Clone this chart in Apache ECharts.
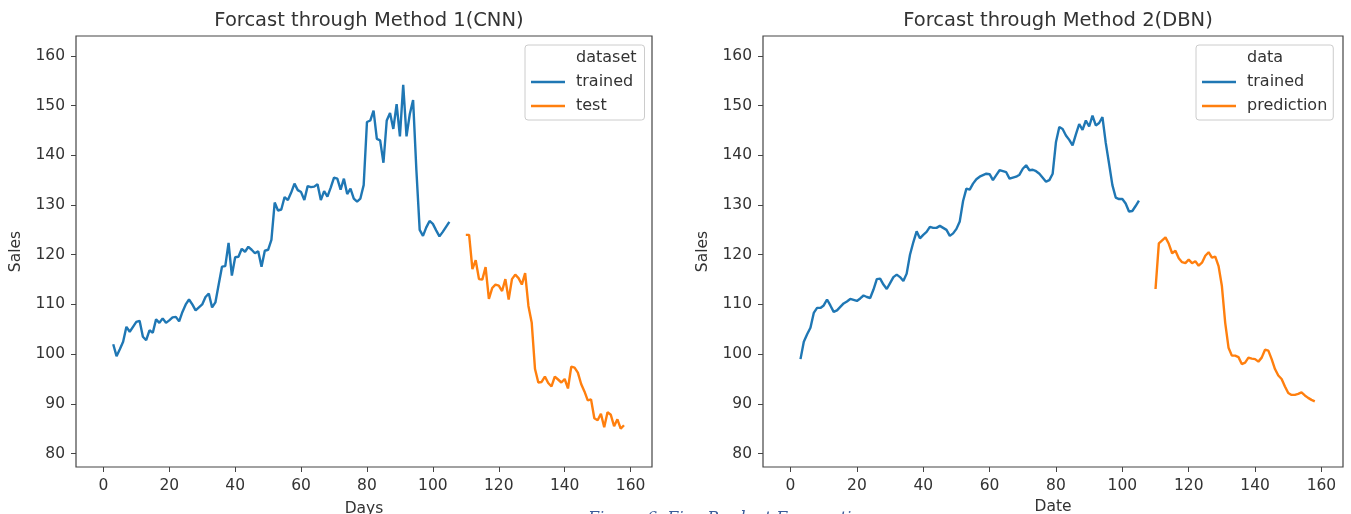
<!DOCTYPE html>
<html>
<head>
<meta charset="utf-8">
<script src="https://cdn.jsdelivr.net/npm/echarts@6/dist/echarts.min.js"></script>
<style>html,body{margin:0;padding:0;background:#fff;}#c{width:1351px;height:514px;}</style>
</head>
<body>
<div id="c"></div>
<script>
// ---- data ----
const titles = ['Forcast through Method 1(CNN)', 'Forcast through Method 2(DBN)'];
const xNames = ['Days', 'Date'];
const yName = 'Sales';
const legendTitles = ['dataset', 'data'];
const seriesNames = [['trained', 'test'], ['trained', 'prediction']];
const caption = 'Figure 6. Five Product Forecasting';
const xTicks = [0, 20, 40, 60, 80, 100, 120, 140, 160];
const yTicks = [80, 90, 100, 110, 120, 130, 140, 150, 160];
const trainStart = 3;
const testStart = 110;

const cnnTrained = [102.0, 99.6, 101.0, 102.5, 105.5, 104.5, 105.5, 106.5, 106.7, 103.5,
  102.8, 104.8, 104.3, 107.0, 106.3, 107.2, 106.3, 106.8, 107.4, 107.5,
  106.6, 108.5, 110.0, 111.0, 110.0, 108.8, 109.4, 110.0, 111.5, 112.2,
  109.4, 110.4, 114.0, 117.6, 117.7, 122.4, 115.8, 119.5, 119.6, 121.2,
  120.6, 121.6, 121.0, 120.3, 120.7, 117.6, 120.8, 121.0, 123.0, 130.5,
  128.9, 129.1, 131.6, 131.0, 132.5, 134.3, 133.0, 132.6, 131.0, 133.8,
  133.6, 133.7, 134.2, 131.0, 132.8, 131.7, 133.5, 135.5, 135.3, 133.1,
  135.3, 132.2, 133.3, 131.3, 130.7, 131.3, 134.0, 146.7, 147.0, 149.0,
  143.3, 143.0, 138.5, 147.0, 148.5, 145.3, 150.3, 143.8, 154.2, 143.8,
  148.3, 151.1, 137.0, 125.0, 123.8, 125.5, 126.8, 126.2, 124.9, 123.7,
  124.6, 125.6, 126.6];
const cnnTest = [124.0, 124.0, 117.1, 118.9, 115.1, 115.0, 117.5, 111.1, 113.3, 114.0,
  113.8, 112.7, 115.1, 111.0, 115.1, 116.0, 115.3, 114.0, 116.3, 109.7,
  106.3, 97.0, 94.3, 94.4, 95.5, 94.2, 93.5, 95.5, 94.9, 94.3,
  95.0, 93.1, 97.5, 97.3, 96.3, 94.0, 92.5, 90.7, 90.9, 87.1,
  86.7, 88.0, 85.3, 88.3, 87.8, 85.5, 86.9, 85.0, 85.7];
const dbnTrained = [99.0, 102.5, 104.0, 105.3, 108.3, 109.3, 109.3, 109.8, 111.0, 109.8,
  108.5, 108.8, 109.5, 110.2, 110.6, 111.1, 110.9, 110.7, 111.2, 111.8,
  111.5, 111.3, 113.0, 115.1, 115.2, 114.0, 113.1, 114.3, 115.5, 116.0,
  115.5, 114.7, 116.2, 120.0, 122.5, 124.7, 123.3, 124.0, 124.6, 125.6,
  125.4, 125.4, 125.8, 125.4, 125.0, 123.8, 124.3, 125.2, 126.7, 130.8,
  133.3, 133.1, 134.3, 135.2, 135.7, 136.0, 136.3, 136.2, 135.0, 136.0,
  137.0, 136.8, 136.6, 135.3, 135.5, 135.7, 136.1, 137.3, 138.0, 137.0,
  137.1, 136.8, 136.3, 135.5, 134.7, 135.0, 136.3, 142.7, 145.7, 145.3,
  144.0, 143.1, 142.0, 144.2, 146.3, 145.1, 147.0, 145.8, 148.0, 146.0,
  146.5, 147.7, 142.5, 138.3, 134.0, 131.5, 131.2, 131.2, 130.3, 128.7,
  128.8, 129.8, 130.9];
const dbnPrediction = [113.1, 122.3, 122.9, 123.5, 122.2, 120.3, 120.8, 119.3, 118.5, 118.3,
  119.0, 118.3, 118.7, 117.8, 118.4, 119.8, 120.5, 119.4, 119.6, 117.7,
  113.7, 106.3, 101.3, 99.7, 99.7, 99.4, 98.0, 98.3, 99.3, 99.1,
  99.0, 98.5, 99.3, 100.9, 100.7, 99.0, 97.0, 95.7, 95.0, 93.5,
  92.2, 91.8, 91.8, 92.0, 92.3, 91.7, 91.2, 90.8, 90.5];

// ---- build ----
const BLUE = '#1f77b4', ORANGE = '#ff7f0e', TXT = '#333';
const FONT = 'DejaVu Sans';
function pairs(start, vals) { return vals.map((v, i) => [start + i, v]); }

const grids = [
  {left: 76, right: 1351 - 652, top: 36, bottom: 514 - 467},
  {left: 763, right: 1351 - 1343, top: 36, bottom: 514 - 467}
];
grids.forEach(g => {
  g.show = true; g.borderColor = '#444'; g.borderWidth = 1.2; g.backgroundColor = 'transparent';
  g.containLabel = false; g.outerBoundsMode = 'none';
});

const xNameGaps = [34, 31];
const xAxes = [0, 1].map(i => ({
  type: 'value', gridIndex: i, min: -8.3, max: 166.5,
  name: xNames[i], nameLocation: 'middle', nameGap: xNameGaps[i],
  nameTextStyle: {fontFamily: FONT, fontSize: 15.5, color: TXT},
  axisLine: {show: false, onZero: false},
  axisTick: {show: true, length: 5, customValues: xTicks, lineStyle: {color: '#444'}},
  axisLabel: {customValues: xTicks, fontFamily: FONT, fontSize: 15.5, color: TXT, margin: 11},
  splitLine: {show: false}
}));
const yAxes = [0, 1].map(i => ({
  type: 'value', gridIndex: i, min: 77.3, max: 164,
  name: yName, nameLocation: 'middle', nameGap: 52, nameRotate: 90,
  nameTextStyle: {fontFamily: FONT, fontSize: 15.5, color: TXT},
  axisLine: {show: false, onZero: false},
  axisTick: {show: true, length: 5, customValues: yTicks, lineStyle: {color: '#444'}},
  axisLabel: {customValues: yTicks, fontFamily: FONT, fontSize: 15.5, color: TXT, margin: 11},
  splitLine: {show: false}
}));

const lineSeries = (name, idx, data, color) => ({
  name: name, type: 'line', xAxisIndex: idx, yAxisIndex: idx,
  data: data, showSymbol: false, symbol: 'none',
  lineStyle: {color: color, width: 2.4}, itemStyle: {color: color},
  animation: false
});
const dummy = (name, idx) => ({
  name: name, type: 'line', xAxisIndex: idx, yAxisIndex: idx, data: [],
  lineStyle: {color: 'rgba(0,0,0,0)'}, itemStyle: {color: 'rgba(0,0,0,0)'}
});

const series = [
  dummy(legendTitles[0], 0),
  lineSeries(seriesNames[0][0], 0, pairs(trainStart, cnnTrained), BLUE),
  lineSeries(seriesNames[0][1], 0, pairs(testStart, cnnTest), ORANGE),
  dummy(legendTitles[1], 1),
  lineSeries(seriesNames[1][0], 1, pairs(trainStart, dbnTrained), BLUE),
  lineSeries(seriesNames[1][1], 1, pairs(testStart, dbnPrediction), ORANGE)
];

const legendCommon = {
  orient: 'vertical', selectedMode: false, icon: 'rect', itemWidth: 34, itemHeight: 2.5,
  itemGap: 8, backgroundColor: 'rgba(255,255,255,0.8)', borderColor: '#ccc', borderWidth: 1,
  borderRadius: 3,
  textStyle: {fontFamily: FONT, fontSize: 16, color: TXT, padding: [0, 0, 0, 6]}
};
const legends = [
  Object.assign({}, legendCommon, {left: 525, top: 45, padding: [5, 8, 6, 6],
    data: [legendTitles[0], seriesNames[0][0], seriesNames[0][1]]}),
  Object.assign({}, legendCommon, {left: 1196, top: 45, padding: [5, 6, 6, 6],
    data: [legendTitles[1], seriesNames[1][0], seriesNames[1][1]]})
];

const chart = echarts.init(document.getElementById('c'), null, {renderer: 'canvas'});
chart.setOption({
  backgroundColor: '#fff',
  animation: false,
  title: [
    {text: titles[0], left: 364, top: 6, textAlign: 'center',
      textStyle: {fontFamily: FONT, fontSize: 19.5, fontWeight: 'normal', color: TXT}},
    {text: titles[1], left: 1053, top: 6, textAlign: 'center',
      textStyle: {fontFamily: FONT, fontSize: 19.5, fontWeight: 'normal', color: TXT}}
  ],
  graphic: [
    {type: 'text', left: 588, top: 511, silent: true,
      style: {text: caption, fontFamily: 'DejaVu Serif', fontStyle: 'italic', fontSize: 16, fill: '#3b5b9a'}}
  ],
  grid: grids,
  xAxis: xAxes,
  yAxis: yAxes,
  legend: legends,
  series: series
});
</script>
</body>
</html>
